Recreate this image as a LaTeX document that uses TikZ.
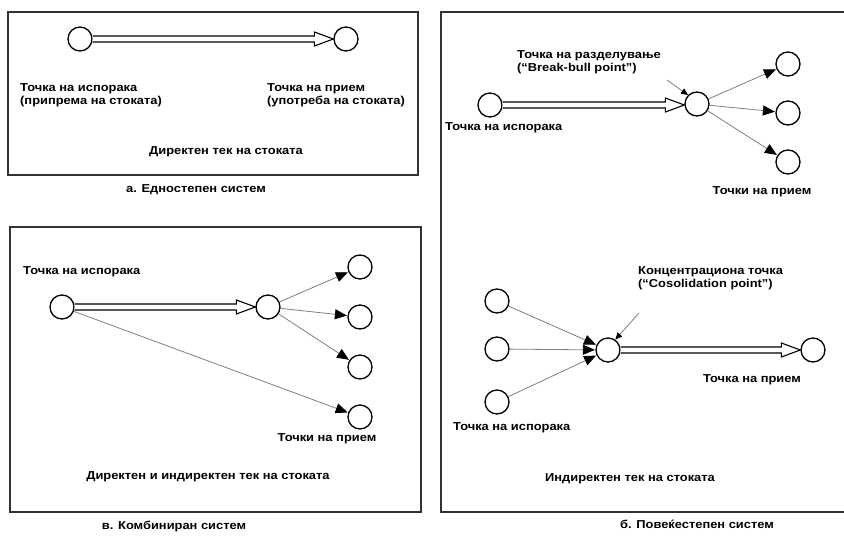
\documentclass[tikz,border=0pt]{standalone}
\usepackage{fontspec}
\setmainfont[FakeStretch=1.12]{Liberation Sans}
\usetikzlibrary{arrows.meta,calc}
\tikzset{
  pt/.style={circle,draw=black,line width=1.3pt,fill=white,minimum size=24pt,inner sep=0pt},
  frame/.style={draw=black!80,line width=1.6pt},
  lbl/.style={font=\fontsize{11.5}{12.5}\selectfont\bfseries,inner sep=0pt,align=left,anchor=west},
  clbl/.style={font=\fontsize{11.5}{12.5}\selectfont\bfseries,inner sep=0pt,align=center},
  flow/.style={draw=black!50,line width=0.8pt,shorten >=0.5pt,-{Triangle[length=12pt,width=10pt,color=black]}},
  pointer/.style={draw=black!50,line width=0.8pt,-{Triangle[length=7pt,width=6pt,color=black]}},
  hollow/.style={draw=black,line width=1.1pt,fill=white,line join=miter}
}
\newcommand{\hollowarrow}[2]{%
  \path[hollow] let \p1=(#1.east), \p2=(#2.west) in
    (\x1,\y1+3pt) -- (\x2-19pt,\y1+3pt) -- (\x2-19pt,\y1+7pt) -- (\x2,\y1)
    -- (\x2-19pt,\y1-7pt) -- (\x2-19pt,\y1-3pt) -- (\x1,\y1-3pt);}
\begin{document}
\begin{tikzpicture}[x=1pt,y=-1pt]
\useasboundingbox[fill=white] (0,0) rectangle (844,536);
\clip (0,0) rectangle (844,536);

% ---------- panel a ----------
\draw[frame] (8,12) rectangle (418,175);
\node[pt] (a1) at (80,39) {};
\node[pt] (a2) at (346,39) {};
\hollowarrow{a1}{a2}
\node[lbl] (a1l) at (20,95) {Точка на испорака\\(припрема на стоката)};
\node[lbl] (a2l) at (267,95) {Точка на прием\\(употреба на стоката)};
\node[clbl] (at) at (226,152) {Директен тек на стоката};
\node[clbl] (ac) at (196,190) {а. Едностепен систем};

% ---------- panel в ----------
\draw[frame] (10,227) rectangle (421,512);
\node[lbl] (c0l) at (23,272) {Точка на испорака};
\node[pt] (c0) at (62,307) {};
\node[pt] (c1) at (268,307) {};
\node[pt] (r1) at (360,267) {};
\node[pt] (r2) at (360,317) {};
\node[pt] (r3) at (360,367) {};
\node[pt] (r4) at (360,417) {};
\hollowarrow{c0}{c1}
\draw[flow] (c1) -- (r1);
\draw[flow] (c1) -- (r2);
\draw[flow] (c1) -- (r3);
\draw[flow] (c0) -- (r4);
\node[clbl] (rl) at (327,439) {Точки на прием};
\node[clbl] (ct) at (208,477) {Директен и индиректен тек на стоката};
\node[clbl] (cc) at (174,526) {в. Комбиниран систем};

% ---------- panel б ----------
\draw[frame] (860,12) -- (441,12) -- (441,512) -- (860,512);
\node[pt] (s0) at (490,105) {};
\node[pt] (s1) at (697,104) {};
\node[pt] (t1) at (788,64) {};
\node[pt] (t2) at (788,113) {};
\node[pt] (t3) at (788,162) {};
\hollowarrow{s0}{s1}
\draw[flow] (s1) -- (t1);
\draw[flow] (s1) -- (t2);
\draw[flow] (s1) -- (t3);
\node[lbl] (bl) at (517,62) {Точка на разделување\\(“Break-bull point”)};
\coordinate (p1) at (667,80);
\draw[pointer] (p1) -- (s1.north west);
\node[lbl] (s0l) at (445,128) {Точка на испорака};
\node[clbl] (tl) at (762,192) {Точки на прием};

\node[pt] (u1) at (497,301) {};
\node[pt] (u2) at (497,349) {};
\node[pt] (u3) at (497,402) {};
\node[pt] (k) at (608,350) {};
\node[pt] (v) at (813,350) {};
\draw[flow] (u1) -- (k);
\draw[flow] (u2) -- (k);
\draw[flow] (u3) -- (k);
\hollowarrow{k}{v}
\node[lbl] (kl) at (638,278) {Концентрациона точка\\(“Cosolidation point”)};
\coordinate (p2) at (639,313);
\draw[pointer] (p2) -- (k.55);
\node[clbl] (vl) at (752,380) {Точка на прием};
\node[lbl] (ul) at (453,428) {Точка на испорака};
\node[clbl] (bt) at (630,479) {Индиректен тек на стоката};
\node[clbl] (bc) at (697,524) {б. Повеќестепен систем};
\end{tikzpicture}
\end{document}
